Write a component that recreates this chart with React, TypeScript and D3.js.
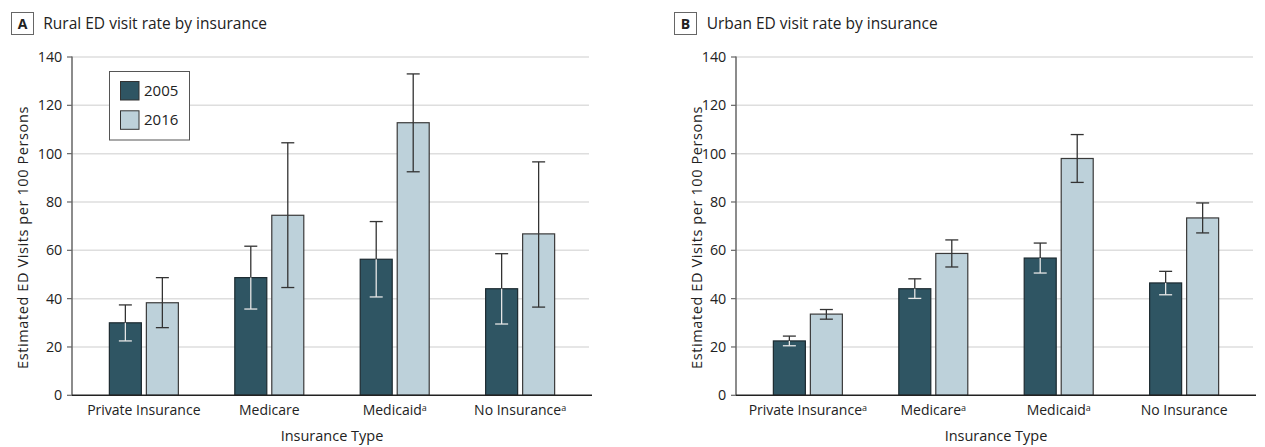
import React from "react";
import * as d3 from "d3";

const categories = ["Private Insurance", "Medicare", "Medicaid", "No Insurance"];
const years = ["2005", "2016"];
const yTicks = [0, 20, 40, 60, 80, 100, 120, 140];

// Panel A: Rural
const ruralSup = [false, false, true, true];
const rural2005 = [30.0, 48.7, 56.3, 44.1];
const rural2005Lo = [22.5, 35.7, 40.7, 29.5];
const rural2005Hi = [37.4, 61.7, 71.9, 58.6];
const rural2016 = [38.3, 74.5, 112.8, 66.8];
const rural2016Lo = [28.0, 44.6, 92.5, 36.5];
const rural2016Hi = [48.7, 104.5, 133.0, 96.6];

// Panel B: Urban
const urbanSup = [true, true, true, false];
const urban2005 = [22.5, 44.1, 56.8, 46.5];
const urban2005Lo = [20.5, 40.1, 50.6, 41.6];
const urban2005Hi = [24.5, 48.2, 63.0, 51.3];
const urban2016 = [33.6, 58.7, 98.0, 73.4];
const urban2016Lo = [31.5, 53.1, 88.1, 67.2];
const urban2016Hi = [35.5, 64.3, 107.9, 79.6];

const DARK = "#2f5563";
const LIGHT = "#bdd1da";
const FONT = "'Open Sans', 'DejaVu Sans', sans-serif";

type PanelProps = {
  letter: string;
  title: string;
  x0: number;
  x1: number;
  letterBoxX: number;
  titleX: number;
  yLabelX: number;
  sup: boolean[];
  v: number[][];
  lo: number[][];
  hi: number[][];
  legend?: boolean;
};

function Panel(p: PanelProps) {
  const y = d3.scaleLinear().domain([0, 140]).range([395.3, 57]);
  const x = d3.scaleBand<string>().domain(categories).range([p.x0, p.x1]).paddingOuter(0.073).paddingInner(0);
  const sub = d3.scaleBand<string>().domain(years).range([-34.5, 34.5]).paddingInner(0.135).paddingOuter(0);
  const capW = 6.5;
  return (
    <g>
      {/* panel letter and title */}
      <rect x={p.letterBoxX + 0.5} y={12.5} width={22} height={22} fill="#fff" stroke="#666" strokeWidth={1} />
      <text x={p.letterBoxX + 11.5} y={28.8} textAnchor="middle" fontFamily={FONT} fontWeight="bold" fontSize={14} fill="#222">
        {p.letter}
      </text>
      <text x={p.titleX} y={29.3} fontFamily={FONT} fontSize={15.5} fill="#222">
        {p.title}
      </text>
      {/* gridlines */}
      {yTicks.filter((t) => t > 0).map((t) => (
        <line key={"g" + t} x1={p.x0} x2={p.x1 - 3} y1={y(t)} y2={y(t)} stroke="#dedede" strokeWidth={1.5} />
      ))}
      {/* ticks */}
      {yTicks.map((t) => (
        <g key={"t" + t}>
          <line x1={p.x0 - 5} x2={p.x0} y1={y(t)} y2={y(t)} stroke="#666" strokeWidth={1.2} />
          <text x={p.x0 - 9.7} y={y(t)} dy="0.35em" textAnchor="end" fontFamily={FONT} fontSize={14.3} fill="#222">
            {t}
          </text>
        </g>
      ))}
      {/* y axis label */}
      <text
        transform={`translate(${p.yLabelX},237.5) rotate(-90)`}
        textAnchor="middle"
        fontFamily={FONT}
        fontSize={14.5}
        letterSpacing={0.6}
        fill="#222"
      >
        Estimated ED Visits per 100 Persons
      </text>
      {/* bars */}
      {categories.map((c, i) => {
        const cx = (x(c) as number) + x.bandwidth() / 2;
        return (
          <g key={c}>
            {years.map((yr, j) => {
              const bx = cx + (sub(yr) as number);
              const bw = sub.bandwidth();
              const val = p.v[j][i];
              const ex = bx + bw / 2;
              const yTop = y(val);
              const yHi = y(p.hi[j][i]);
              const yLo = y(p.lo[j][i]);
              const dark = j === 0;
              return (
                <g key={yr}>
                  <rect
                    x={bx}
                    y={yTop}
                    width={bw}
                    height={y(0) - yTop}
                    fill={dark ? DARK : LIGHT}
                    stroke={dark ? "#1c2a30" : "#3a3a3a"}
                    strokeWidth={1.2}
                  />
                  <line x1={ex} x2={ex} y1={yHi} y2={yTop} stroke="#333" strokeWidth={1.3} />
                  <line x1={ex - capW} x2={ex + capW} y1={yHi} y2={yHi} stroke="#333" strokeWidth={1.3} />
                  <line x1={ex} x2={ex} y1={yTop} y2={yLo} stroke={dark ? "#e6e6e6" : "#333"} strokeWidth={1.3} />
                  <line x1={ex - capW} x2={ex + capW} y1={yLo} y2={yLo} stroke={dark ? "#e6e6e6" : "#333"} strokeWidth={1.3} />
                </g>
              );
            })}
            <text x={cx} y={415} textAnchor="middle" fontFamily={FONT} fontSize={14} fill="#222">
              {c}
              {p.sup[i] ? (
                <tspan fontSize={9} dy={-4}>
                  a
                </tspan>
              ) : null}
            </text>
          </g>
        );
      })}
      {/* axes */}
      <line x1={p.x0} x2={p.x0} y1={y(140) - 0.5} y2={y(0)} stroke="#666" strokeWidth={1.5} />
      <line x1={p.x0} x2={p.x1} y1={y(0)} y2={y(0)} stroke="#222" strokeWidth={1.5} />
      <text x={(p.x0 + p.x1) / 2} y={441} textAnchor="middle" fontFamily={FONT} fontSize={14.5} fill="#222">
        Insurance Type
      </text>
      {p.legend ? (
        <g>
          <rect x={109.5} y={71.5} width={80} height={68.5} fill="#fff" stroke="#555" strokeWidth={1} />
          {years.map((yr, j) => (
            <g key={"l" + yr}>
              <rect x={120.5} y={81.5 + j * 29.3} width={18.5} height={18.5} fill={j === 0 ? DARK : LIGHT} stroke="#333" strokeWidth={1} />
              <text x={144} y={96 + j * 29.3} fontFamily={FONT} fontSize={15} fill="#222">
                {yr}
              </text>
            </g>
          ))}
        </g>
      ) : null}
    </g>
  );
}

export default function App() {
  return (
    <svg
      width={1265}
      height={447}
      style={{ position: "absolute", left: 0, top: 0, background: "#fff" }}
    >
      <rect width={1265} height={447} fill="#fff" />
      <Panel
        letter="A"
        title="Rural ED visit rate by insurance"
        x0={72}
        x1={592}
        letterBoxX={11}
        titleX={43.3}
        yLabelX={28.3}
        sup={ruralSup}
        v={[rural2005, rural2016]}
        lo={[rural2005Lo, rural2016Lo]}
        hi={[rural2005Hi, rural2016Hi]}
        legend
      />
      <Panel
        letter="B"
        title="Urban ED visit rate by insurance"
        x0={736}
        x1={1256}
        letterBoxX={674}
        titleX={706.7}
        yLabelX={702.3}
        sup={urbanSup}
        v={[urban2005, urban2016]}
        lo={[urban2005Lo, urban2016Lo]}
        hi={[urban2005Hi, urban2016Hi]}
      />
    </svg>
  );
}
